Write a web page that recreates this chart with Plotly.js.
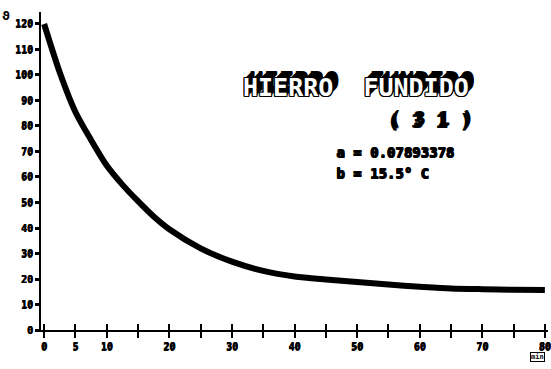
<!DOCTYPE html>
<html>
<head>
<meta charset="utf-8">
<script src="https://cdn.plot.ly/plotly-3.0.1.min.js"></script>
<style>html,body{margin:0;padding:0;background:#fff;}#chart{width:551px;height:369px;}</style>
</head>
<body>
<div id="chart"></div>
<script>
// Cooling curve
const timeMin = [0, 2.5, 5, 7.5, 10, 12.5, 15, 17.5, 20, 25, 30, 35, 40, 45, 50, 55, 60, 65, 70, 75, 80];
const tempC   = [120, 101, 85.5, 74.5, 64.5, 57, 50.5, 44.5, 39.5, 32, 26.8, 23.2, 21, 19.8, 18.8, 17.8, 17, 16.3, 16, 15.8, 15.7];

const xTickVals = [0,5,10,15,20,25,30,35,40,45,50,55,60,65,70,75,80];
const xTickText = ['0','5','10','','20','','30','','40','','50','','60','','70','','80'];
const yTickVals = [0,10,20,30,40,50,60,70,80,90,100,110,120];

const titleLine = 'HIERRO  FUNDIDO';
const subLine = '( 3 1 )';
const paramA = 'a = 0.07893378';
const paramB = 'b = 15.5° C';
const yLabel = 'ϑ';
const xUnit = 'min';

const fnt = 'DejaVu Sans Mono, monospace';
const thick = '0.6px 0 0 #000, 0 0.6px 0 #000';
const block = '1px 0 0 #000, -1px 0 0 #000, 0 1px 0 #000, 0 -1px 0 #000, 1px 1px 0 #000, -1px -1px 0 #000, -1px 1px 0 #000, 1px -1px 0 #000, 2px -2px 0 #000, 3px -3px 0 #000, 4px -4px 0 #000, 5px -5px 0 #000, 6px -6px 0 #000, 6px -7px 0 #000';

const trace = {
  x: timeMin, y: tempC, type: 'scatter', mode: 'lines',
  line: {color: '#000', width: 6, shape: 'spline', smoothing: 0.8},
  hoverinfo: 'none', cliponaxis: false
};
const ghost = {x: [0], y: [0], xaxis: 'x2', yaxis: 'y', mode: 'markers',
  marker: {opacity: 0}, hoverinfo: 'none', showlegend: false};

const layout = {
  width: 551, height: 369,
  margin: {l: 41, r: 3, t: 12, b: 39},
  paper_bgcolor: '#fff', plot_bgcolor: '#fff',
  showlegend: false,
  xaxis: {
    range: [-0.5, 80.5], showgrid: false, zeroline: false,
    showline: true, linecolor: '#000', linewidth: 2,
    tickmode: 'array', tickvals: xTickVals, ticktext: xTickText,
    ticks: 'outside', ticklen: 6, tickwidth: 2, tickcolor: '#000',
    tickfont: {family: fnt, size: 10, color: '#000', weight: 'bold', shadow: thick}
  },
  xaxis2: {
    overlaying: 'x', anchor: 'y', side: 'bottom', matches: 'x',
    range: [-0.5, 80.5], showgrid: false, zeroline: false, showline: false,
    tickmode: 'array', tickvals: xTickVals, showticklabels: false,
    ticks: 'inside', ticklen: 6, tickwidth: 2, tickcolor: '#000'
  },
  yaxis: {
    range: [0, 124.7], showgrid: false, zeroline: false,
    showline: true, linecolor: '#000', linewidth: 2,
    tickmode: 'array', tickvals: yTickVals,
    ticks: 'outside', ticklen: 4, tickwidth: 3, tickcolor: '#000',
    tickfont: {family: fnt, size: 10, color: '#000', weight: 'bold', shadow: thick}
  },
  annotations: [
    {text: titleLine, x: 49.8, y: 95, xref: 'x', yref: 'y', showarrow: false,
     font: {family: fnt, size: 25, color: '#fff', weight: 'bold', shadow: block}},
    {text: subLine, x: 61.5, y: 82, xref: 'x', yref: 'y', showarrow: false,
     font: {family: fnt, size: 20, color: '#000', weight: 'bold', shadow: '1px 0 0 #000, 2px -2px 0 #000, 3px -3px 0 #000'}},
    {text: paramA, x: 46.3, y: 69.8, xref: 'x', yref: 'y', xanchor: 'left', showarrow: false,
     font: {family: fnt, size: 14, color: '#000', weight: 'bold', shadow: '1px 0 0 #000, 0 1px 0 #000, 1px 1px 0 #000'}},
    {text: paramB, x: 46.3, y: 61.6, xref: 'x', yref: 'y', xanchor: 'left', showarrow: false,
     font: {family: fnt, size: 14, color: '#000', weight: 'bold', shadow: '1px 0 0 #000, 0 1px 0 #000, 1px 1px 0 #000'}},
    {text: yLabel, x: -0.078, y: 1.013, xref: 'paper', yref: 'paper', xanchor: 'left', showarrow: false,
     borderpad: 0,
     font: {family: 'DejaVu Sans, sans-serif', size: 12, color: '#000', weight: 'bold'}},
    {text: xUnit, x: 0.994, y: -0.1006, xref: 'paper', yref: 'paper', showarrow: false,
     bordercolor: '#000', borderwidth: 1, borderpad: 0,
     font: {family: fnt, size: 7, color: '#000', weight: 'bold'}}
  ]
};
Plotly.newPlot('chart', [trace, ghost], layout, {staticPlot: true, displayModeBar: false});
</script>
</body>
</html>
